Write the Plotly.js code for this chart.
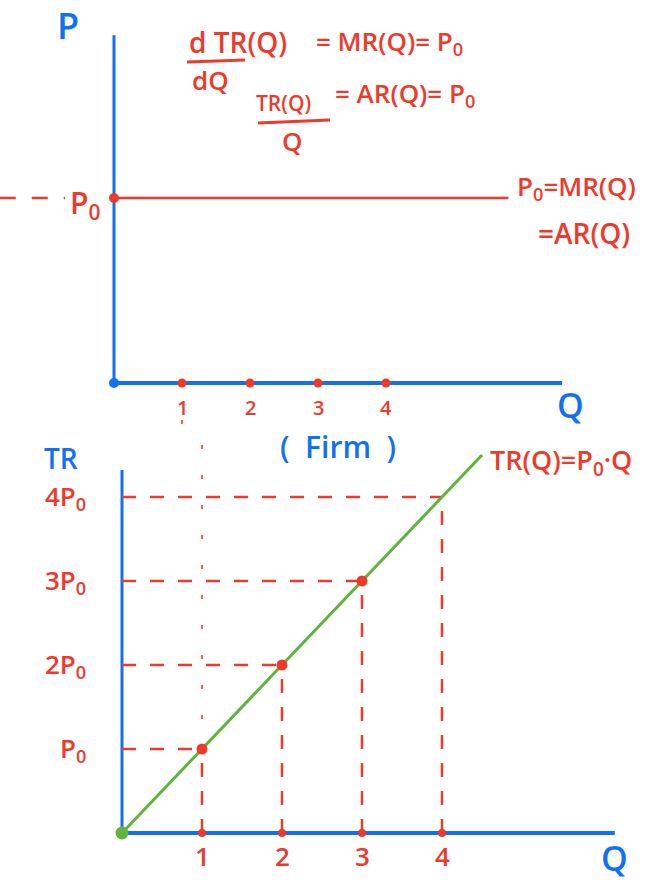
<!DOCTYPE html>
<html>
<head>
<meta charset="utf-8">
<script src="https://cdn.plot.ly/plotly-3.0.1.min.js"></script>
<style>
  html, body { margin: 0; padding: 0; background: #ffffff; }
  #chart { width: 671px; height: 892px; }
</style>
</head>
<body>
<div id="chart"></div>
<script>
// Perfectly competitive firm: price P0 is constant, so MR = AR = P0 and TR = P0 * Q.
var P0 = 1;                                  // price, in units of P0
var quantities = [1, 2, 3, 4];               // marked output levels
var revenues = [1, 2, 3, 4];                 // TR at each level, in units of P0
var qTickLabels = ['1', '2', '3', '4'];
var trTickLabels = ['P<sub>0</sub>', '2P<sub>0</sub>', '3P<sub>0</sub>', '4P<sub>0</sub>'];
var priceLineQ = [0, 5.8];                   // horizontal demand / MR / AR line
var priceLineP = [P0, P0];
var trLineQ = [0, 4.5];                      // TR(Q) = P0 * Q
var trLineTR = [0, 4.5];

var RED = '#ee3a2a', BLUE = '#1170f5', GREEN = '#5fb33e';
var FONT = 'Open Sans, Liberation Sans, sans-serif';

// ---------- top panel (x / y) ----------
var traces = [];
traces.push({ x: priceLineQ, y: priceLineP, xaxis: 'x', yaxis: 'y', mode: 'lines',
  line: { color: RED, width: 2.5 }, hoverinfo: 'skip' });
traces.push({ x: [-1.68, -0.72], y: [P0, P0], xaxis: 'x', yaxis: 'y', mode: 'lines',
  line: { color: RED, width: 2.5, dash: '16px,16px' }, hoverinfo: 'skip' });
traces.push({ x: [0], y: [P0], xaxis: 'x', yaxis: 'y', mode: 'markers',
  marker: { color: RED, size: 10 }, cliponaxis: false, hoverinfo: 'skip' });
traces.push({ x: quantities, y: quantities.map(function () { return 0; }), xaxis: 'x', yaxis: 'y',
  mode: 'markers', marker: { color: RED, size: 9 }, cliponaxis: false, hoverinfo: 'skip' });
traces.push({ x: [0], y: [0], xaxis: 'x', yaxis: 'y', mode: 'markers',
  marker: { color: BLUE, size: 10 }, cliponaxis: false, hoverinfo: 'skip' });
// link from Q = 1 in the top panel down to the lower panel
traces.push({ x: [quantities[0], quantities[0]], y: [-0.2, -0.4], xaxis: 'x', yaxis: 'y', mode: 'lines',
  line: { color: RED, width: 2, dash: '4px,18px' }, opacity: 0.8, hoverinfo: 'skip' });

// ---------- bottom panel (x2 / y2) ----------
var hx = [], hy = [], vx = [], vy = [];
quantities.forEach(function (q, i) {
  hx.push(0, q, null); hy.push(revenues[i], revenues[i], null);
  vx.push(q, q, null); vy.push(0, revenues[i], null);
});
traces.push({ x: hx, y: hy, xaxis: 'x2', yaxis: 'y2', mode: 'lines',
  line: { color: RED, width: 2.5, dash: '14px,14px' }, hoverinfo: 'skip' });
traces.push({ x: vx, y: vy, xaxis: 'x2', yaxis: 'y2', mode: 'lines',
  line: { color: RED, width: 2.5, dash: '14px,14px' }, hoverinfo: 'skip' });
traces.push({ x: [quantities[0], quantities[0]], y: [revenues[0], 4.8], xaxis: 'x2', yaxis: 'y2', mode: 'lines',
  line: { color: RED, width: 2, dash: '4px,26px' }, opacity: 0.8, hoverinfo: 'skip' });
traces.push({ x: trLineQ, y: trLineTR, xaxis: 'x2', yaxis: 'y2', mode: 'lines',
  line: { color: GREEN, width: 3 }, hoverinfo: 'skip' });
traces.push({ x: quantities.slice(0, 3), y: revenues.slice(0, 3), xaxis: 'x2', yaxis: 'y2', mode: 'markers',
  marker: { color: RED, size: 11 }, hoverinfo: 'skip' });
traces.push({ x: quantities, y: quantities.map(function () { return 0; }), xaxis: 'x2', yaxis: 'y2',
  mode: 'markers', marker: { color: RED, size: 8 }, cliponaxis: false, hoverinfo: 'skip' });
traces.push({ x: [0], y: [0], xaxis: 'x2', yaxis: 'y2', mode: 'markers',
  marker: { color: GREEN, size: 13 }, cliponaxis: false, hoverinfo: 'skip' });

function ann(text, x, y, xref, yref, size, color, xanchor) {
  return { text: text, x: x, y: y, xref: xref, yref: yref, showarrow: false,
    xanchor: xanchor || 'center', yanchor: 'middle',
    font: { family: FONT, size: size, color: color, weight: 600 } };
}

var annotations = [
  // top panel
  ann('P', -0.68, 1.93, 'x', 'y', 36, BLUE),
  ann('P<sub>0</sub>', -0.42, 0.97, 'x', 'y', 30, RED),
  ann('P<sub>0</sub>=MR(Q)', 5.9, 1.06, 'x', 'y', 26, RED, 'left'),
  ann('=AR(Q)', 6.2, 0.81, 'x', 'y', 28, RED, 'left'),
  ann('Q', 6.72, -0.12, 'x', 'y', 34, BLUE),
  // formulas above the top panel
  ann('d TR(Q)', 187 / 671, 1 - 42 / 892, 'paper', 'paper', 28, RED, 'left'),
  ann('dQ', 190 / 671, 1 - 80 / 892, 'paper', 'paper', 26, RED, 'left'),
  ann('= MR(Q)= P<sub>0</sub>', 314 / 671, 1 - 42 / 892, 'paper', 'paper', 26, RED, 'left'),
  ann('TR(Q)', 254 / 671, 1 - 103 / 892, 'paper', 'paper', 21, RED, 'left'),
  ann('Q', 292 / 671, 1 - 141 / 892, 'paper', 'paper', 26, RED),
  ann('= AR(Q)= P<sub>0</sub>', 333 / 671, 1 - 94 / 892, 'paper', 'paper', 26, RED, 'left'),
  ann('(  Firm  )', 338 / 671, 1 - 446 / 892, 'paper', 'paper', 30, BLUE),
  // bottom panel
  ann('TR', -0.76, 4.46, 'x2', 'y2', 28, BLUE),
  ann('Q', 6.15, -0.3, 'x2', 'y2', 34, BLUE),
  ann('TR(Q)=P<sub>0</sub>·Q', 4.58, 4.42, 'x2', 'y2', 27, RED, 'left')
];
quantities.forEach(function (q, i) {
  annotations.push(ann(qTickLabels[i], q, -0.13, 'x', 'y', 20, RED));
  annotations.push(ann(qTickLabels[i], q, -0.27, 'x2', 'y2', 26, RED));
  annotations.push(ann(trTickLabels[i], -0.42, revenues[i], 'x2', 'y2', 26, RED, 'right'));
});

function seg(x0, y0, x1, y1, xref, yref, color, width) {
  return { type: 'line', x0: x0, y0: y0, x1: x1, y1: y1, xref: xref, yref: yref,
    line: { color: color, width: width }, layer: 'below' };
}

var shapes = [
  // axes
  seg(0, 0, 0, 1.88, 'x', 'y', BLUE, 3),
  seg(0, 0, 6.59, 0, 'x', 'y', BLUE, 4),
  seg(0, 0, 0, 4.32, 'x2', 'y2', BLUE, 3),
  seg(0, 0, 6.16, 0, 'x2', 'y2', BLUE, 4),
  // fraction bars
  seg(187 / 671, 1 - 62 / 892, 245 / 671, 1 - 60 / 892, 'paper', 'paper', RED, 3),
  seg(258 / 671, 1 - 123 / 892, 330 / 671, 1 - 120 / 892, 'paper', 'paper', RED, 3)
];

var hidden = { visible: false, showgrid: false, zeroline: false, fixedrange: true };

var layout = {
  width: 671, height: 892,
  margin: { l: 0, r: 0, t: 0, b: 0 },
  paper_bgcolor: '#ffffff', plot_bgcolor: 'rgba(0,0,0,0)',
  showlegend: false,
  xaxis: Object.assign({ domain: [0, 1], range: [-114 / 68, (671 - 114) / 68], anchor: 'y' }, hidden),
  yaxis: Object.assign({ domain: [1 - 440 / 892, 1], range: [-57 / 185, 383 / 185], anchor: 'x' }, hidden),
  xaxis2: Object.assign({ domain: [0, 1], range: [-122 / 80, (671 - 122) / 80], anchor: 'y2' }, hidden),
  yaxis2: Object.assign({ domain: [0, 1 - 440 / 892], range: [-59 / 84, 393 / 84], anchor: 'x2' }, hidden),
  annotations: annotations,
  shapes: shapes
};

Plotly.newPlot('chart', traces, layout, { staticPlot: true, displayModeBar: false });
</script>
</body>
</html>
